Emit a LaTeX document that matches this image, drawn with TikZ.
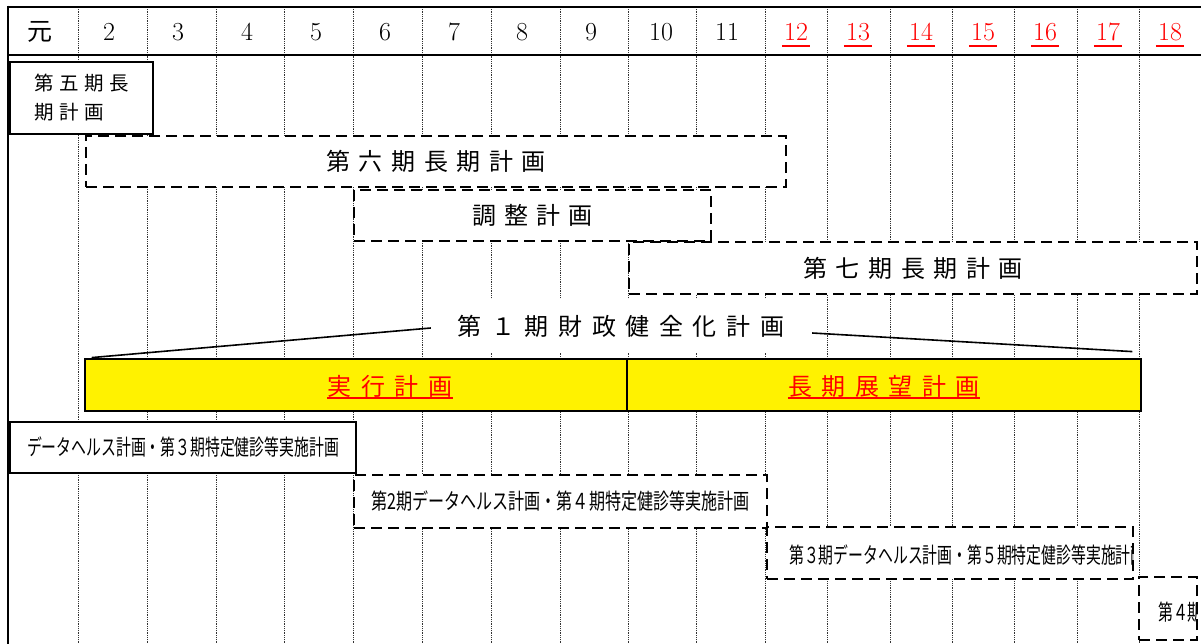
\documentclass[tikz,border=0pt]{standalone}
\usepackage{fontspec}
\usepackage{graphicx}
\newfontfamily\jp{Noto Sans CJK JP}
\newcommand\lsp[2]{\def\lspgap{#1}\lspA#2\lspend}
\def\lspA#1#2\lspend{#1\ifx\relax#2\relax\else\hspace{\lspgap}\lspA#2\lspend\fi}
\begin{document}
\begin{tikzpicture}[x=1pt,y=-1pt,
  grid/.style={densely dotted, line width=0.8pt, black!80},
  frame/.style={line width=2.8pt},
  solidbox/.style={draw, line width=2.8pt, fill=white, inner sep=0pt},
  dashbox/.style={draw, line width=2.8pt, dash pattern=on 11pt off 6pt, fill=white, inner sep=0pt},
  yellowbox/.style={draw, line width=2.8pt, fill=yellow, inner sep=0pt},
  jbig/.style={font=\jp\fontsize{24}{28}\selectfont, inner sep=0pt},
  jsmall/.style={font=\jp\fontsize{22}{26}\selectfont, inner sep=0pt},
  hdr/.style={font=\fontsize{26}{30}\selectfont, inner sep=2pt},
  redhdr/.style={hdr, text=red},
  uline/.style={red, line width=2pt},
  conn/.style={line width=1.6pt}]
\useasboundingbox (0,0) rectangle (1201,644);
\fill[white] (0,0) rectangle (1201,644);
% column grid
\foreach \gx in {78,147,216,284,353,422,491,560,628,696,765,827,890,952,1014,1077,1139}
  \draw[grid] (\gx,7) -- (\gx,644);
% frame
\draw[frame] (7,7) -- (1201,7);
\draw[frame] (7,55) -- (1201,55);
\draw[frame] (8,5.6) -- (8,644);
% header
\node[jbig, font=\jp\fontsize{25}{28}\selectfont] (h1) at (40,32) {元};
\foreach \n/\gx in {2/109,3/178,4/247,5/316,6/385,7/454,8/522,9/591,10/661,11/727}
  \node[hdr] (h\n) at (\gx,32) {\n};
\foreach \n/\gx in {12/796,13/858,14/921,15/983,16/1045,17/1108,18/1170}{
  \node[redhdr] (h\n) at (\gx,32) {\n};
  \draw[uline] ([yshift=-3pt]h\n.south west) -- ([yshift=-3pt]h\n.south east);
}
% long-term plans
\node[solidbox, minimum width=143pt, minimum height=72pt, align=left,
      font=\jp\fontsize{19.5}{29}\selectfont] (p5) at (81.5,98)
  {\lsp{0.28em}{第五期長}\\\lsp{0.28em}{期計画}};
\node[dashbox, jbig, minimum width=700pt, minimum height=51pt] (p6) at (436,161.5)
  {\lsp{0.36em}{第六期長期計画}};
\node[dashbox, jbig, minimum width=357pt, minimum height=51pt] (adj) at (532.5,215.5)
  {\raisebox{-3pt}{\lsp{0.34em}{調整計画}}};
\node[dashbox, jbig, minimum width=568pt, minimum height=52pt] (p7) at (913,268)
  {\lsp{0.36em}{第七期長期計画}};
% fiscal plan
\node[jbig, fill=white, minimum width=390pt, minimum height=54pt] (title) at (621,326)
  {\lsp{0.4em}{第１期財政健全化計画}};
\node[yellowbox, minimum width=542pt, minimum height=52pt] (yL) at (356,385) {};
\node[yellowbox, minimum width=514pt, minimum height=52pt] (yR) at (884,385) {};
\node[jbig, text=red] (tL) at (390,386) {\lsp{0.4em}{実行計画}};
\node[jbig, text=red] (tR) at (884,386) {\lsp{0.4em}{長期展望計画}};
\draw[uline] ([yshift=-1pt]tL.south west) -- ([yshift=-1pt]tL.south east);
\draw[uline] ([yshift=-1pt]tR.south west) -- ([yshift=-1pt]tR.south east);
\coordinate (cL) at ([xshift=8pt]yL.north west);
\coordinate (cR) at ([xshift=-10pt,yshift=6pt]yR.north east);
\draw[conn] ([xshift=5pt,yshift=-2pt]title.west) -- (cL);
\draw[conn] ([xshift=-4pt,yshift=-7pt]title.east) -- (cR);
% data health plans
\node[solidbox, jsmall, minimum width=346pt, minimum height=51pt] (d1) at (183,447.5)
  {\resizebox{312pt}{\height}{データヘルス計画・第３期特定健診等実施計画}};
\node[dashbox, jsmall, minimum width=413pt, minimum height=53pt] (d2) at (560.5,501.5)
  {\resizebox{378pt}{\height}{第2期データヘルス計画・第４期特定健診等実施計画}};
\node[dashbox, minimum width=366pt, minimum height=52pt] (d3) at (950,553) {};
\begin{scope}
  \clip ([xshift=2pt]d3.north west) rectangle ([xshift=-1pt]d3.south east);
  \node[jsmall, anchor=west] (d3t) at (789,555)
    {\scalebox{0.675}[1]{第３期データヘルス計画・第５期特定健診等実施計画}};
\end{scope}
\node[dashbox, minimum width=58pt, minimum height=63pt] (d4) at (1168,608.5) {};
\begin{scope}
  \clip ([xshift=2pt]d4.north west) rectangle ([xshift=-1pt]d4.south east);
  \node[jsmall, anchor=west] (d4t) at (1158,612)
    {\scalebox{0.675}[1]{第４期}};
\end{scope}
\end{tikzpicture}
\end{document}
